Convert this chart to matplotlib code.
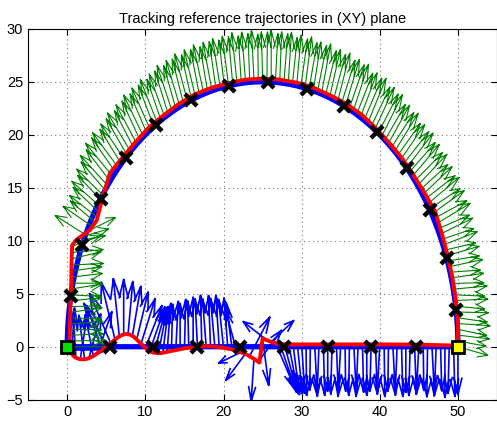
import numpy as np
import matplotlib.pyplot as plt

plt.rcParams['font.family'] = ['Liberation Sans', 'DejaVu Sans']

# reference path: straight segment (0,0)->(50,0) then half circle back to (0,0)
ref_center = (25.0, 0.0)
ref_radius = 25.0
ref_line_x = [0, 50]
ref_line_y = [0, 0]

# robot trajectory, straight part
red_bot_x = [0.3, 0.6, 1, 1.5, 2, 2.5, 3, 3.5, 4, 4.5, 5, 5.5, 6, 6.5, 7, 7.5, 8, 8.5, 9, 9.5,
             10, 10.5, 11, 11.5, 12, 13, 14, 15, 16, 17, 18, 19, 20, 21, 22, 23, 23.8, 24.6,
             25.0, 25.6, 26.3, 27.2, 28, 30, 35, 40, 45, 50]
red_bot_y = [-0.3, -0.7, -1.0, -1.15, -1.2, -1.15, -1.0, -0.8, -0.55, -0.3, 0.0, 0.3, 0.6, 0.9,
             1.1, 1.2, 1.15, 0.95, 0.6, 0.25, -0.1, -0.4, -0.55, -0.6, -0.6, -0.45, -0.3, -0.15,
             -0.05, 0.05, 0.05, 0.0, -0.1, -0.25, -0.45, -0.75, -1.1, -1.5, 0.8, 0.6, 0.4, 0.25,
             0.22, 0.22, 0.22, 0.22, 0.2, 0.1]
# robot trajectory, arc part (polar around the circle centre)
red_arc_deg = [0, 5, 10, 15, 20, 25, 30, 35, 40, 45, 50, 55, 60, 65, 70, 75, 80, 85, 90, 95, 100,
               105, 110, 115, 120, 125, 130, 135, 140, 145, 150.75, 153.5, 157, 158.5, 161.9,
               166.2, 170.8, 175.4, 180]
red_arc_r = [25.0, 25.1, 25.1, 25.15, 25.2, 25.3, 25.5, 25.3, 25.2, 25.2, 25.15, 25.2, 25.3, 25.3,
             25.25, 25.3, 25.3, 25.3, 25.3, 25.3, 25.25, 25.3, 25.35, 25.3, 25.25, 25.3, 25.25,
             25.3, 25.5, 24.9, 24.35, 24.69, 25.86, 26.19, 25.72, 25.22, 24.92, 24.73, 24.7]

# waypoints
wp_bot_x = [5.5, 11.0, 16.6, 22.1, 27.8, 33.4, 38.9, 44.6]
wp_arc_deg = [8, 19.5, 31, 42.5, 54, 65.5, 77, 88.5, 100, 111.5, 123, 134.5, 146, 157.5, 169]

# blue vectors along the straight part (angle in deg, length)
blue_ang = [0, 85, 95, 78, 100, 70, 105, 65, 115, 125,
            120, 108, 98, 90, 83, 77, 72, 67, 62,
            65, 70, 75, 80, 84, 88, 86, 90, 88, 92, 90,
            94, 92, 96, 93, 97, 95, 98, 96, 100, 110,
            200, 225, 55, 265, 45, 280, 150, 35, 300, 295, 290,
            285, 280, 278, 275, 271, 269, 274, 267, 272, 270,
            268, 273, 266, 271, 269, 274, 267, 272, 270, 268,
            273, 266, 271, 269, 274, 267, 272, 270, 268, 273,
            266, 271, 269, 274, 267, 272, 270, 268, 272, 270]
blue_len = [5.0, 4.3, 4.0, 4.5, 4.2, 4.4, 4.0, 4.3, 4.6, 5.0,
            5.4, 5.7, 5.5, 5.2, 5.0, 4.8, 4.7, 4.6, 4.5,
            4.6, 4.5, 4.5, 4.4, 4.6, 4.4, 4.6, 4.3, 4.6, 4.4, 4.7,
            4.5, 4.8, 4.5, 4.8, 4.6, 4.9, 4.6, 4.8, 4.5, 4.0,
            3.0, 3.5, 4.5, 4.0, 4.2, 4.5, 3.5, 3.5, 5.0, 5.0, 4.8,
            4.8, 4.8, 4.7, 4.6, 4.8, 4.3, 4.9, 4.5, 4.8, 4.4,
            4.7, 4.3, 4.9, 4.4, 4.8, 4.3, 4.9, 4.5, 4.8, 4.4,
            4.7, 4.3, 4.9, 4.4, 4.8, 4.3, 4.9, 4.5, 4.8, 4.4,
            4.7, 4.3, 4.9, 4.4, 4.8, 4.3, 4.9, 4.5, 4.8, 4.6]

# green vectors along the arc (angle in deg, length)
green_ang = [-12, -8, -5, -9, -3, -6, -1, -4, 2, -2, 4, 1,
             6, 3, 9, 7, 12, 10, 16, 14, 20, 18, 24, 22,
             28, 26, 32, 30, 35, 34, 38, 37, 41, 40, 44, 43,
             47, 46, 50, 49, 53, 52, 56, 55, 58, 57, 61, 60,
             63, 62, 66, 65, 68, 67, 71, 70, 73, 72, 76, 75,
             78, 77, 80, 79, 83, 82, 85, 84, 87, 86, 90, 89,
             92, 91, 94, 93, 96, 95, 98, 97, 100, 99, 102, 101,
             104, 103, 106, 105, 108, 107, 110, 109, 112, 111, 114, 113,
             116, 115, 118, 117, 121, 120, 123, 122, 126, 125, 129, 128,
             132, 130, 135, 133, 138, 136, 141, 139, 144, 142, 147, 145,
             150, 148, 153, 20, 155, 12, 8, 15, 4, 10, 2, 6,
             5, 0, 7, -2, 4, 1, 6, -1, 3, 0, 2, 1,
             0]
green_len = [3.9, 3.6, 4.0, 3.7, 4.1, 3.8, 4.0, 3.6, 4.1, 3.8, 4.2, 3.9,
             4.0, 3.7, 4.2, 3.9, 4.1, 3.8, 4.3, 4.0, 4.2, 3.9, 4.4, 4.1,
             4.2, 3.9, 4.4, 4.1, 4.3, 4.0, 4.5, 4.2, 4.4, 4.1, 4.5, 4.2,
             4.3, 4.0, 4.5, 4.2, 4.4, 4.1, 4.6, 4.3, 4.5, 4.2, 4.6, 4.3,
             4.4, 4.1, 4.6, 4.3, 4.5, 4.2, 4.6, 4.3, 4.5, 4.2, 4.6, 4.3,
             4.4, 4.2, 4.6, 4.3, 4.5, 4.2, 4.6, 4.4, 4.5, 4.3, 4.6, 4.4,
             4.4, 4.2, 4.6, 4.3, 4.5, 4.2, 4.6, 4.3, 4.5, 4.2, 4.5, 4.3,
             4.4, 4.1, 4.5, 4.2, 4.4, 4.1, 4.5, 4.2, 4.4, 4.1, 4.5, 4.2,
             4.3, 4.0, 4.4, 4.1, 4.3, 4.0, 4.4, 4.1, 4.3, 4.0, 4.4, 4.1,
             4.2, 3.9, 4.3, 4.0, 4.2, 3.9, 4.3, 4.0, 4.2, 3.9, 4.3, 4.0,
             4.1, 3.8, 4.2, 3.6, 4.1, 3.8, 3.9, 3.7, 4.0, 3.8, 4.1, 3.9,
             4.0, 3.8, 4.1, 3.9, 4.0, 3.8, 4.1, 3.9, 4.2, 4.0, 4.3, 4.5,
             5.0]


def matlab_quiver(ax, x, y, u, v, color, lw):
    # shaft + open arrow head, same geometry as MATLAB's quiver
    a, b = 0.33, 0.33
    xs, ys = [], []
    for xi, yi, ui, vi in zip(x, y, u, v):
        xs += [xi, xi + ui, np.nan,
               xi + ui - a * (ui + b * vi), xi + ui, xi + ui - a * (ui - b * vi), np.nan]
        ys += [yi, yi + vi, np.nan,
               yi + vi - a * (vi - b * ui), yi + vi, yi + vi - a * (vi + b * ui), np.nan]
    ax.plot(xs, ys, color=color, lw=lw, solid_joinstyle='miter')


cx, cy = ref_center
fig = plt.figure(figsize=(4.97, 4.22), dpi=100)
ax = fig.add_axes([0.0567, 0.0528, 0.9433, 0.879])

# reference (blue)
phi = np.radians(np.linspace(0, 180, 181))
ref_x = np.concatenate([ref_line_x, cx + ref_radius * np.cos(phi)])
ref_y = np.concatenate([ref_line_y, cy + ref_radius * np.sin(phi)])
ax.plot(ref_x, ref_y, color='#0000ff', lw=3.8, zorder=2)

# actual trajectory (red)
arc_t = np.radians(red_arc_deg)
red_x = np.concatenate([red_bot_x, cx + np.array(red_arc_r) * np.cos(arc_t)])
red_y = np.concatenate([red_bot_y, cy + np.array(red_arc_r) * np.sin(arc_t)])
ax.plot(red_x, red_y, color='#ff0000', lw=2.8, zorder=3)

# waypoints
wt = np.radians(wp_arc_deg)
wp_x = np.concatenate([wp_bot_x, cx + ref_radius * np.cos(wt)])
wp_y = np.concatenate([np.zeros(len(wp_bot_x)), cy + ref_radius * np.sin(wt)])
ax.plot(wp_x, wp_y, 'x', color='k', ms=9, mew=3.2, zorder=4)

# vectors along the straight part
bx = np.linspace(ref_line_x[0], ref_line_x[1], len(blue_ang))
by = np.interp(bx, red_bot_x, red_bot_y)
ba = np.radians(blue_ang)
matlab_quiver(ax, bx, by, np.array(blue_len) * np.cos(ba), np.array(blue_len) * np.sin(ba),
              '#0000ff', 1.2)

# vectors along the arc
gphi = np.linspace(0, 180, len(green_ang))
gr = np.interp(gphi, red_arc_deg, red_arc_r)
gx = cx + gr * np.cos(np.radians(gphi))
gy = cy + gr * np.sin(np.radians(gphi))
ga = np.radians(green_ang)
matlab_quiver(ax, gx, gy, np.array(green_len) * np.cos(ga), np.array(green_len) * np.sin(ga),
              '#008000', 0.8)

# start / end
ax.plot([0], [0], 's', ms=9, mfc='#00e000', mec='k', mew=2, zorder=6)
ax.plot([50], [0], 's', ms=9, mfc='#ffff00', mec='k', mew=2, zorder=6)

ax.set_xlim(-5, 55)
ax.set_ylim(-5, 30)
ax.set_xticks([0, 10, 20, 30, 40, 50])
ax.set_yticks([-5, 0, 5, 10, 15, 20, 25, 30])
ax.tick_params(direction='in', top=True, right=True, labelsize=10.5, length=4)
ax.grid(True, linestyle=(0, (1, 3)), color='#777777', linewidth=0.8)
ax.set_axisbelow(True)
ax.set_title('Tracking reference trajectories in (XY) plane', fontsize=10.5, pad=4)

fig.savefig('out.png', dpi=100)
